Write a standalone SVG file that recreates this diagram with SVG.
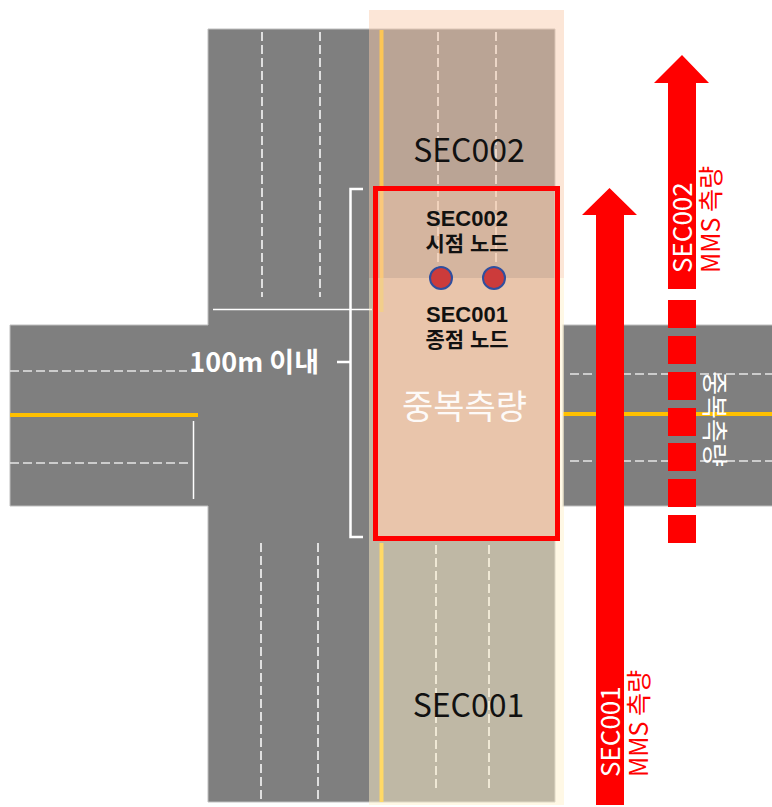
<svg xmlns="http://www.w3.org/2000/svg" width="772" height="807" viewBox="0 0 772 807">
<style>
text{font-family:"Noto Sans CJK KR","Noto Sans",sans-serif}
.dash{stroke:#FFFFFF;stroke-width:1.5;stroke-dasharray:9 4;fill:none}
.hdash{stroke:#E6E6E6;stroke-width:1.3;stroke-dasharray:9 4;fill:none}
.yel{stroke:#FFC000;stroke-width:4;fill:none}
.wl{stroke:#FFFFFF;stroke-width:1.5;fill:none}
.red{fill:#FF0000}
.lbl{font-family:"Liberation Sans","Noto Sans CJK KR",sans-serif;font-weight:bold;fill:#111111;text-anchor:middle}
</style>
<rect width="772" height="807" fill="#FFFFFF"/>
<g id="road">
<path d="M208,29 H555 V802 H208 V506 H10 V325 H208 Z" fill="#7F7F7F" stroke="#BFBFBF" stroke-width="1"/>
<rect x="563" y="325" width="210" height="181" fill="#7F7F7F" stroke="#BFBFBF" stroke-width="1"/>
</g>
<g id="markings">
<line class="dash" x1="262" y1="32" x2="262" y2="297"/>
<line class="dash" x1="320" y1="32" x2="320" y2="297"/>
<line class="dash" x1="438" y1="32" x2="438" y2="297"/>
<line class="dash" x1="496" y1="32" x2="496" y2="297"/>
<line class="dash" x1="261" y1="543" x2="261" y2="800"/>
<line class="dash" x1="318" y1="543" x2="318" y2="800"/>
<line class="dash" x1="436" y1="545" x2="436" y2="790"/>
<line class="dash" x1="489" y1="545" x2="489" y2="790"/>
<line class="hdash" x1="10" y1="371" x2="187" y2="371"/>
<line class="hdash" x1="10" y1="463" x2="192" y2="463"/>
<line class="hdash" x1="570" y1="374" x2="772" y2="374"/>
<line class="hdash" x1="570" y1="461" x2="772" y2="461"/>
<line class="yel" x1="10" y1="415" x2="198" y2="415"/>
<line class="yel" x1="563" y1="414" x2="772" y2="414"/>
<line class="yel" x1="381.5" y1="30" x2="381.5" y2="312"/>
<line class="yel" x1="381.5" y1="543" x2="381.5" y2="802"/>
<line class="wl" x1="213" y1="309.5" x2="372" y2="309.5"/>
<line class="wl" x1="193.5" y1="421" x2="193.5" y2="499"/>
</g>
<g id="overlays">
<rect x="369" y="10" width="195" height="268" fill="#F8CBAD" opacity="0.49"/>
<rect x="369" y="278" width="195" height="527" fill="#FFF2CC" opacity="0.5"/>
</g>
<g id="section-labels">
<text x="469" y="162" font-size="32" fill="#111111" text-anchor="middle">SEC002</text>
<text x="468.5" y="717" font-size="32" fill="#111111" text-anchor="middle">SEC001</text>
</g>
<g id="overlap-box">
<rect x="375.5" y="188.5" width="182" height="89.5" fill="#F8CBAD" opacity="0.43"/>
<rect x="375.5" y="278" width="182" height="260.5" fill="#E9C5AB"/>
<line x1="381.5" y1="278" x2="381.5" y2="312" stroke="#FFD966" stroke-width="4" opacity="0.45"/>
<rect x="375.5" y="188.5" width="182" height="350" fill="none" stroke="#FF0000" stroke-width="5"/>
<text class="lbl" x="467" y="226" font-size="22">SEC002</text>
<text class="lbl" x="467" y="251" font-size="21">시점 노드</text>
<text class="lbl" x="467" y="322" font-size="22">SEC001</text>
<text class="lbl" x="467" y="347" font-size="21">종점 노드</text>
<text x="464.5" y="419" font-size="34" fill="#FFFFFF" opacity="0.92" text-anchor="middle">중복측량</text>
</g>
<g id="nodes">
<circle cx="441" cy="278" r="11" fill="#CC3B3B" stroke="#2F4F9F" stroke-width="2"/>
<circle cx="494" cy="278" r="11" fill="#CC3B3B" stroke="#2F4F9F" stroke-width="2"/>
</g>
<g id="bracket">
<path d="M363,189 H350.5 V537 H363 M337,362 H350.5" fill="none" stroke="#FFFFFF" stroke-width="2.5"/>
<text x="319" y="372" font-size="27" font-weight="bold" fill="#FFFFFF" text-anchor="end">100m 이내</text>
</g>
<g id="arrows">
<polygon class="red" points="609.5,188 637,215 624,215 624,805 596,805 596,215 582,215"/>
<polygon class="red" points="682,55 709,83 696,83 696,289 668,289 668,83 654,83"/>
<rect class="red" x="668" y="300" width="28" height="28"/>
<rect class="red" x="668" y="336" width="28" height="28"/>
<rect class="red" x="668" y="372" width="28" height="28"/>
<rect class="red" x="668" y="408" width="28" height="28"/>
<rect class="red" x="668" y="443" width="28" height="28"/>
<rect class="red" x="668" y="479" width="28" height="28"/>
<rect class="red" x="668" y="515" width="28" height="28"/>
</g>
<g id="arrow-labels">
<text transform="translate(692,273) rotate(-90)" x="0" y="0" font-size="26" fill="#FFFFFF">SEC002<tspan x="0" dy="28" font-size="25" fill="#FF0000">MMS 측량</tspan></text>
<text transform="translate(620,777) rotate(-90)" x="0" y="0" font-size="26" fill="#FFFFFF">SEC001<tspan x="0" dy="28" font-size="25" fill="#FF0000">MMS 측량</tspan></text>
<text transform="translate(705,419) rotate(90)" x="0" y="0" font-size="26" fill="#FFFFFF" text-anchor="middle">중복측량</text>
</g>
</svg>
